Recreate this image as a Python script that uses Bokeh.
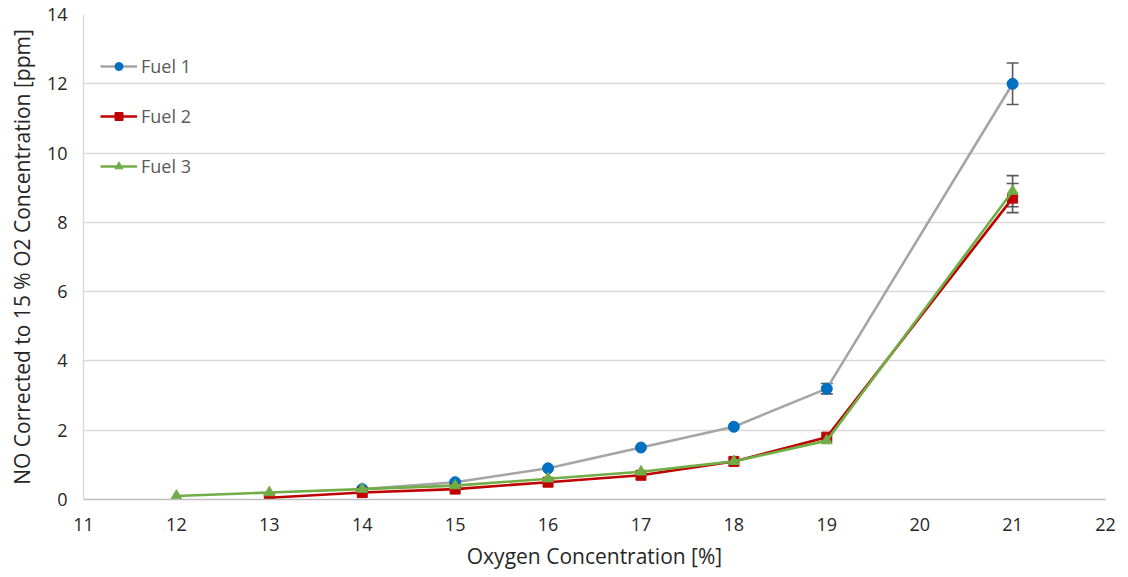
from bokeh.plotting import figure
from bokeh.models import (ColumnDataSource, Whisker, TeeHead, Legend, LegendItem,
                          FixedTicker, Range1d)
from bokeh.embed import file_html
from bokeh.resources import INLINE

# Oxygen concentration [%] and NO corrected to 15 % O2 [ppm]
fuel1_o2 = [14, 15, 16, 17, 18, 19, 21]
fuel1_no = [0.3, 0.5, 0.9, 1.5, 2.1, 3.2, 12.0]
fuel1_err = [0.0, 0.0, 0.0, 0.0, 0.0, 0.15, 0.6]

fuel2_o2 = [13, 14, 15, 16, 17, 18, 19, 21]
fuel2_no = [0.05, 0.2, 0.3, 0.5, 0.7, 1.1, 1.8, 8.7]
fuel2_err = [0.0, 0.0, 0.0, 0.0, 0.0, 0.0, 0.0, 0.42]

fuel3_o2 = [12, 13, 14, 15, 16, 17, 18, 19, 21]
fuel3_no = [0.1, 0.2, 0.3, 0.4, 0.6, 0.8, 1.1, 1.7, 8.9]
fuel3_err = [0.0, 0.0, 0.0, 0.0, 0.0, 0.0, 0.0, 0.0, 0.45]

x_ticks = list(range(11, 23))
y_ticks = list(range(0, 15, 2))

FONT = "Open Sans"
TEXT = "#262626"

p = figure(width=1128, height=577, output_backend="svg", toolbar_location=None,
           x_range=Range1d(11, 22), y_range=Range1d(0, 14),
           min_border_left=83, min_border_right=23, min_border_top=14,
           min_border_bottom=78)
p.outline_line_color = None
p.background_fill_color = "white"
p.border_fill_color = "white"

p.xgrid.grid_line_color = None
p.ygrid.grid_line_color = "#d9d9d9"
p.ygrid.grid_line_width = 1.3

p.xaxis.ticker = FixedTicker(ticks=x_ticks)
p.yaxis.ticker = FixedTicker(ticks=y_ticks)
for ax in (p.xaxis[0], p.yaxis[0]):
    ax.major_tick_line_color = None
    ax.minor_tick_line_color = None
    ax.major_label_text_font = FONT
    ax.major_label_text_font_size = "18px"
    ax.major_label_text_color = TEXT
    ax.axis_label_text_font = FONT
    ax.axis_label_text_font_size = "21px"
    ax.axis_label_text_font_style = "normal"
    ax.axis_label_text_color = TEXT
p.xaxis.axis_line_color = "#bfbfbf"
p.xaxis.axis_line_width = 1.3
p.yaxis.axis_line_color = "#d9d9d9"
p.yaxis.axis_line_width = 1.3
p.xaxis.major_label_standoff = 12
p.yaxis.major_label_standoff = 10
p.xaxis.axis_label = "Oxygen Concentration [%]"
p.yaxis.axis_label = "NO Corrected to 15 % O2 Concentration [ppm]"
p.xaxis.axis_label_standoff = 8
p.yaxis.axis_label_standoff = 8

series = [
    ("Fuel 1", fuel1_o2, fuel1_no, fuel1_err, "#a5a5a5", "#0070c0", "circle", 11),
    ("Fuel 2", fuel2_o2, fuel2_no, fuel2_err, "#c00000", "#c00000", "square", 10),
    ("Fuel 3", fuel3_o2, fuel3_no, fuel3_err, "#70ad47", "#70ad47", "triangle", 11),
]

items = []
for name, xs, ys, errs, lcol, mcol, marker, size in series:
    src = ColumnDataSource(dict(x=xs, y=ys))
    ln = p.line("x", "y", source=src, line_color=lcol, line_width=2.6)
    sc = p.scatter("x", "y", source=src, marker=marker, size=size,
                   fill_color=mcol, line_color=mcol)
    items.append(LegendItem(label=name, renderers=[ln, sc]))

# error bars drawn on top of all series
for name, xs, ys, errs, lcol, mcol, marker, size in series:
    keep = [i for i, e in enumerate(errs) if e > 0]
    src = ColumnDataSource(dict(
        x=[xs[i] for i in keep],
        lo=[ys[i] - errs[i] for i in keep],
        hi=[ys[i] + errs[i] for i in keep],
    ))
    w = Whisker(source=src, base="x", lower="lo", upper="hi",
                line_color="#595959", line_width=1.6,
                upper_head=TeeHead(size=12, line_color="#595959", line_width=1.6),
                lower_head=TeeHead(size=12, line_color="#595959", line_width=1.6))
    p.add_layout(w)

legend = Legend(items=items, location=(7, 311), margin=0, padding=10,
                spacing=26, glyph_width=37, glyph_height=20, label_height=20,
                label_standoff=4, border_line_alpha=0, background_fill_alpha=0,
                label_text_font=FONT, label_text_font_size="18px",
                label_text_color="#595959")
p.add_layout(legend, "center")

open("out.html", "w").write(file_html(p, INLINE))
